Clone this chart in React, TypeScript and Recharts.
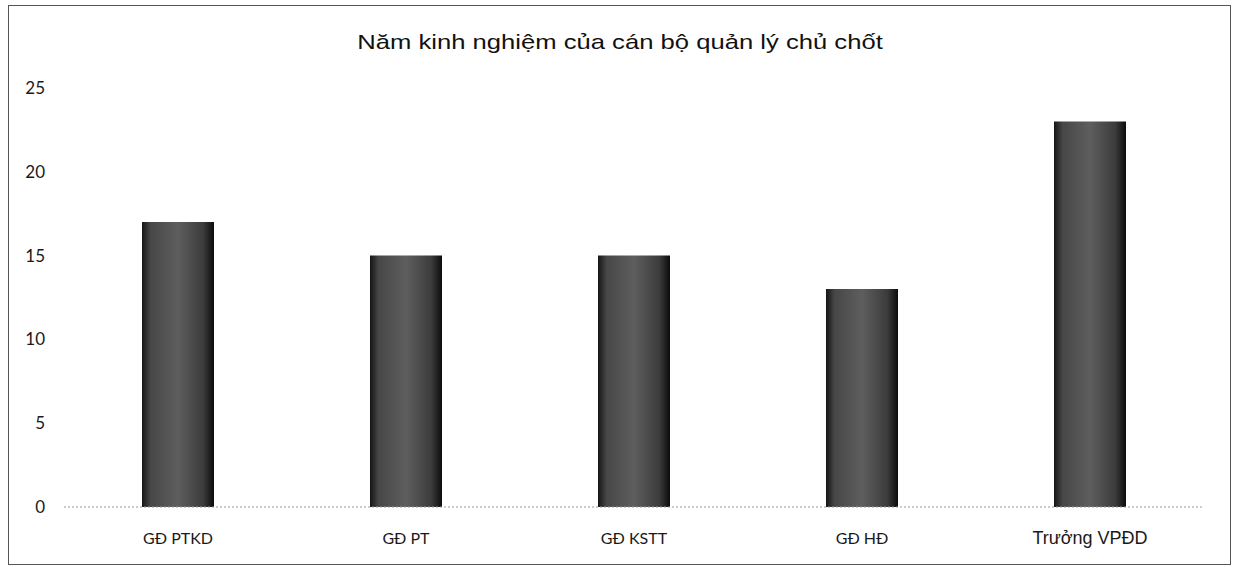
import * as React from 'react';
import { BarChart, Bar, XAxis, YAxis } from 'recharts';

const categories = ['GĐ PTKD', 'GĐ PT', 'GĐ KSTT', 'GĐ HĐ', 'Trưởng VPĐD'];
const years = [17, 15, 15, 13, 23];
const yTicks = [0, 5, 10, 15, 20, 25];

const chartData = categories.map((name, i) => ({ name, years: years[i] }));

const CategoryTick = (props: any) => {
  const { x, y, payload } = props;
  const last = payload.value === categories[categories.length - 1];
  return (
    <text
      x={x}
      y={y + 29}
      textAnchor="middle"
      fill="#1a1a1a"
      fontFamily={last ? 'Liberation Sans, Arial, sans-serif' : 'Lato, sans-serif'}
      fontSize={last ? 18 : 16}
    >
      {payload.value}
    </text>
  );
};

const App: React.FC = () => {
  return (
    <div style={{ position: 'absolute', left: 0, top: 0, width: 1233, height: 567, background: '#fff' }}>
      <div
        style={{
          position: 'absolute',
          left: 8,
          top: 5,
          width: 1223,
          height: 560,
          boxSizing: 'border-box',
          border: '1.5px solid #555',
        }}
      />
      <div
        style={{
          position: 'absolute',
          left: 0,
          width: 1240,
          top: 30,
          textAlign: 'center',
          fontFamily: 'Liberation Sans, Arial, sans-serif',
          fontSize: 21,
          color: '#111',
          transform: 'scaleX(1.22)',
          transformOrigin: '620px 0',
        }}
      >
        Năm kinh nghiệm của cán bộ quản lý chủ chốt
      </div>
      <div style={{ position: 'absolute', left: 0, top: 0 }}>
        <BarChart width={1233} height={567} data={chartData} margin={{ top: 88, right: 29, bottom: 30, left: 0 }}>
          <defs>
            <linearGradient id="barShade" x1="0" y1="0" x2="1" y2="0">
              <stop offset="0%" stopColor="#151515" />
              <stop offset="12%" stopColor="#474747" />
              <stop offset="50%" stopColor="#5e5e5e" />
              <stop offset="85%" stopColor="#3c3c3c" />
              <stop offset="100%" stopColor="#0c0c0c" />
            </linearGradient>
          </defs>
          <XAxis
            dataKey="name"
            height={30}
            tickLine={false}
            axisLine={{ stroke: '#9a9a9a', strokeDasharray: '2 2' }}
            tick={<CategoryTick />}
            interval={0}
          />
          <YAxis
            width={64}
            domain={[0, 25]}
            ticks={yTicks}
            axisLine={false}
            tickLine={false}
            tickSize={6}
            tickMargin={13}
            tick={{ fontSize: 17, fill: '#1a1a1a', fontFamily: 'Lato, sans-serif' }}
          />
          <Bar dataKey="years" fill="url(#barShade)" barSize={72} isAnimationActive={false} />
        </BarChart>
      </div>
    </div>
  );
};

export default App;
